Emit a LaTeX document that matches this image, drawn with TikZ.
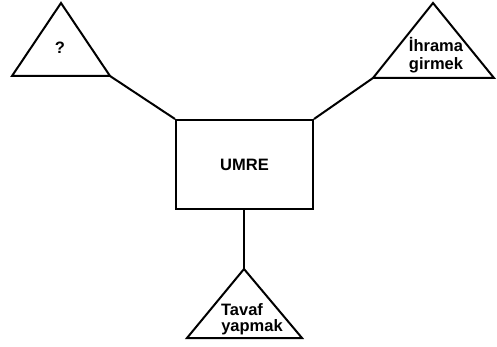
\documentclass[tikz,border=0pt]{standalone}
\usepackage{fontspec}
\setmainfont{Liberation Sans}
\begin{document}
\begin{tikzpicture}[x=1pt,y=-1pt,
  shapeline/.style={line width=2pt, line join=miter},
  lbl/.style={font=\bfseries\fontsize{16.5}{19}\selectfont, inner sep=0pt}]
\useasboundingbox (0,0) rectangle (497,347);
% left triangle
\coordinate (lA) at (61,3);
\coordinate (lL) at (12,76);
\coordinate (lR) at (110,76);
\draw[shapeline] (lA) -- (lL) -- (lR) -- cycle;
\node[lbl] (q) at (60,48) {?};
% right triangle
\coordinate (rA) at (433,3);
\coordinate (rL) at (373,78);
\coordinate (rR) at (494,78);
\draw[shapeline] (rA) -- (rL) -- (rR) -- cycle;
\node[lbl] (ih1) at (436,45) {İhrama};
\node[lbl] (ih2) at (436,65) {girmek};
% box
\node[draw, line width=2pt, minimum width=137pt, minimum height=89pt, inner sep=0pt,
  font=\bfseries\fontsize{16.5}{19}\selectfont] (umre) at (244.5,164.5) {UMRE};
% bottom triangle
\coordinate (bA) at (244,269);
\coordinate (bL) at (187,338);
\coordinate (bR) at (302,338);
\draw[shapeline] (bA) -- (bL) -- (bR) -- cycle;
\node[lbl] (t1) at (242,310) {Tavaf};
\node[lbl] (t2) at (252,327) {yapmak};
% connectors
\draw[shapeline] (lR) -- (umre.north west);
\draw[shapeline] (umre.north east) -- (rL);
\draw[shapeline] (umre.south -| bA) -- (bA);
\end{tikzpicture}
\end{document}
